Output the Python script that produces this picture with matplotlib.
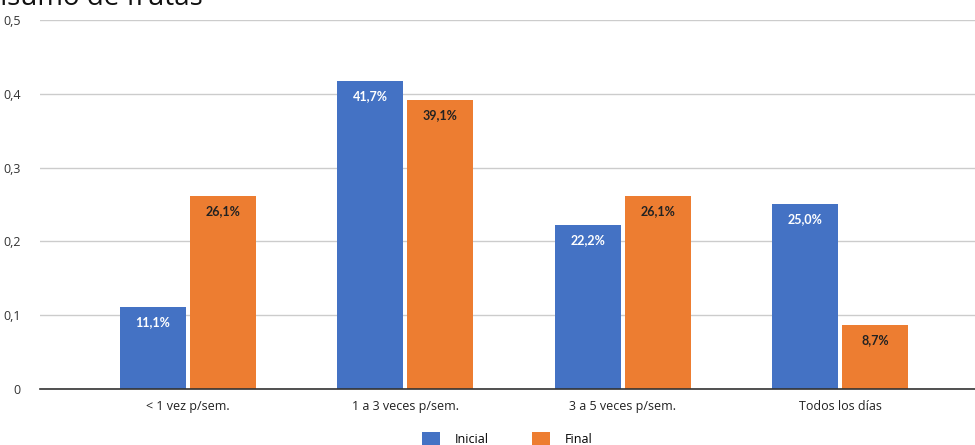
import numpy as np
import matplotlib
matplotlib.use('Agg')
import matplotlib.pyplot as plt

categorias = ['< 1 vez p/sem.', '1 a 3 veces p/sem.', '3 a 5 veces p/sem.', 'Todos los días']
inicial = [0.111, 0.417, 0.222, 0.250]
final = [0.261, 0.391, 0.261, 0.087]
yticks = [0, 0.1, 0.2, 0.3, 0.4, 0.5]
ytick_labels = ['0', '0,1', '0,2', '0,3', '0,4', '0,5']

azul = '#4472c4'
naranja = '#ed7d31'

plt.rcParams['font.family'] = ['Open Sans', 'DejaVu Sans']

fig = plt.figure(figsize=(9.75, 4.45), dpi=100)
ax = fig.add_axes([0.041, 0.126, 0.959, 0.829])

x = np.arange(len(categorias))
w = 0.304
off = 0.161
b1 = ax.bar(x - off, inicial, w, color=azul, label='Inicial', zorder=3)
b2 = ax.bar(x + off, final, w, color=naranja, label='Final', zorder=3)

for rect, v in zip(b1, inicial):
    ax.text(rect.get_x() + rect.get_width()/2, v - 0.012, f'{v*100:.1f}%'.replace('.', ','),
            ha='center', va='top', color='white', fontsize=9, fontweight='bold',
            family=['Lato', 'DejaVu Sans'], zorder=4)
for rect, v in zip(b2, final):
    ax.text(rect.get_x() + rect.get_width()/2, v - 0.012, f'{v*100:.1f}%'.replace('.', ','),
            ha='center', va='top', color='#222222', fontsize=9, fontweight='bold',
            family=['Lato', 'DejaVu Sans'], zorder=4)

ax.set_xlim(-0.68, 3.62)
ax.set_ylim(0, 0.5)
ax.set_yticks(yticks)
ax.set_yticklabels(ytick_labels, fontsize=9, color='#333333')
ax.set_xticks(x)
ax.set_xticklabels(categorias, fontsize=9, color='#222222')
ax.tick_params(axis='both', length=0, pad=8)
ax.tick_params(axis='y', pad=14)
ax.grid(axis='y', color='#cccccc', linewidth=1, zorder=0)
for s in ['top', 'right', 'left']:
    ax.spines[s].set_visible(False)
ax.spines['bottom'].set_color('#333333')
ax.spines['bottom'].set_linewidth(1.2)
ax.spines['bottom'].set_zorder(5)

ax.legend(loc='upper center', bbox_to_anchor=(0.5, -0.085), ncol=2, frameon=False,
          fontsize=9, handlelength=1.4, handleheight=1.4, columnspacing=3.5,
          handletextpad=1.2)

fig.text(-0.045, 1.005, 'Consumo de frutas', fontsize=20, va='center', ha='left', color='#111111')

fig.savefig('out.png', dpi=100)
